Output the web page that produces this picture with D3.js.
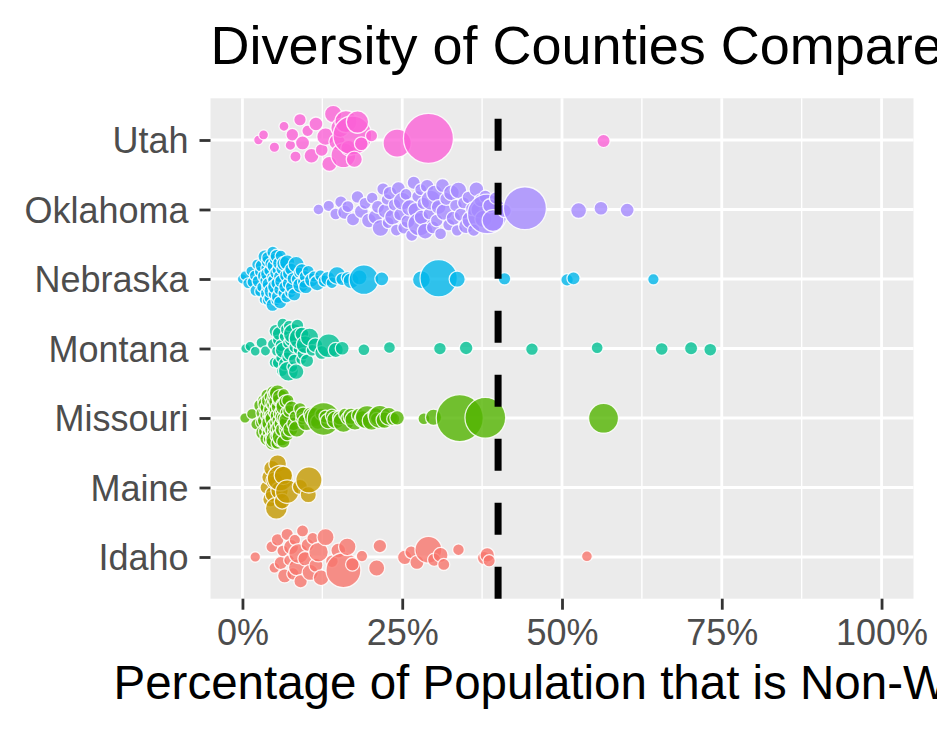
<!DOCTYPE html>
<html>
<head>
<meta charset="utf-8">
<script src="https://cdn.jsdelivr.net/npm/d3@7"></script>
<style>
  html, body { margin: 0; padding: 0; background: #fff; overflow: hidden; }
  svg { display: block; font-family: "Liberation Sans", Arial, sans-serif; }
</style>
</head>
<body>
<svg id="chart" width="937" height="731"></svg>
<script>
// ---- data: [percent non-white, population (thousands)] per county ----
const STATES = ["Idaho", "Maine", "Missouri", "Montana", "Nebraska", "Oklahoma", "Utah"];
const COLORS = ["#F8766D", "#C49A00", "#53B400", "#00C094", "#00B6EB", "#A58AFF", "#FB61D7"];
const Y_ORDER = ["Utah", "Oklahoma", "Nebraska", "Montana", "Missouri", "Maine", "Idaho"];
const X_TICKS = [0, 0.25, 0.5, 0.75, 1];
const X_MINOR = [0.125, 0.375, 0.625, 0.875];
const THRESHOLD = 0.40;
const TITLE = "Diversity of Counties Compared";
const X_TITLE = "Percentage of Population that is Non-White";

const utah = [[2.5,0.9],[3.3,1.5],[5.0,2.6],[6.5,1.6],[7.5,2.7],[7.8,12],[8.3,5],[9.0,11],[9.4,21],[10.2,6.5],[10.8,28],[11.5,20],[12.4,13],[13.0,56],[13.6,30],[14.2,54],[14.8,42],[15.3,72],[15.8,180],[16.2,128],[16.6,35],[17.2,620],[17.5,40],[18.0,130],[18.6,20],[20.2,9.5],[24.2,260],[29.1,1160],[56.5,15]];

const oklahoma = [[11.9,4],[13.5,6],[14.6,8],
 [15.4,10],[16.0,22],[16.5,9],[17.3,15],[18.0,12],[18.6,20],[19.2,9],[19.8,28],
 [20.3,7],[20.8,25],[21.2,14],[21.6,46],[22.0,11],[22.4,30],[22.6,6],[22.8,8],[23.1,19],[23.5,40],[23.8,12],[24.1,9],[24.4,22],[24.7,16],[25.0,60],[25.3,13],[25.6,8],
 [25.9,21],[26.2,45],[26.5,10],[26.8,15],[27.1,33],[27.4,7],[27.7,150],[27.9,9],[28.0,25],[28.3,11],[28.6,38],[28.9,18],[29.2,9],[29.5,90],[29.8,14],[30.1,42],[30.4,12],[30.7,27],[31.0,8],[31.3,20],[31.6,48],
 [31.9,15],[32.3,10],[32.7,37],[33.0,23],[33.4,12],[33.6,7],[33.8,45],[34.2,18],[34.6,9],[35.0,30],[35.4,14],[35.8,70],[36.0,19],[36.2,11],[36.6,26],[37.0,40],
 [37.3,16],[37.7,50],[38.0,13],[38.3,650],[38.7,22],[39.2,120],[39.6,10],
 [41.0,18],[44.2,800],
 [52.6,37],[56.1,20],[60.2,20]];

const nebraska = [[0.0,2],[0.4,1.5],[0.9,4],[1.3,1],[1.6,6],[1.9,3],
 [2.1,8],[2.3,4],[2.5,12],[2.7,3],[2.8,6],[3.0,14],[3.1,5],[3.3,10],[3.4,2],[3.5,18],[3.6,6],[3.7,3],[3.8,12],[3.85,8],[3.9,5],[3.95,22],[4.0,6],[4.0,12],
 [4.1,16],[4.2,5],[4.3,10],[4.4,6],[4.5,24],[4.6,3],[4.7,14],[4.75,8],[4.8,5],[4.9,18],[5.0,12],[5.05,6],[5.1,28],[5.2,8],[5.3,4],[5.35,16],[5.4,10],[5.5,6],[5.6,20],[5.7,12],[5.75,4],[5.8,8],[5.9,14],[6.0,6],
 [6.1,18],[6.2,10],[6.4,4],[6.5,24],[6.6,8],[6.8,12],[6.9,6],[7.0,32],[7.2,10],[7.3,16],[7.5,6],[7.6,12],[7.8,20],[7.9,8],
 [8.1,14],[8.4,40],[8.6,10],[8.9,6],[9.1,36],[9.3,18],[9.6,12],[9.8,8],[9.9,22],
 [10.3,8],[10.8,20],[11.2,5],[11.7,34],[12.2,6],[12.8,10],
 [13.4,25],[14.0,7],[14.8,60],[15.6,12],[16.4,9],
 [17.0,38],[18.3,30],[19.0,300],[21.8,20],
 [28.0,60],[30.7,560],[33.6,40],
 [41.0,11],[50.8,11],[51.8,15],[64.3,6]];

const montana = [[0.5,1],[1.2,2],[2.0,1.5],[3.0,5],[3.6,2],
 [4.8,6],[5.0,3],[5.2,16],[5.4,4],[5.5,2.4],[5.6,8],[5.8,24],[6.0,2],[6.1,12],[6.2,4.4],[6.3,6],[6.4,40],[6.6,4],[6.7,18],[6.9,10],[7.0,3.6],[7.1,2.8],[7.2,90],[7.3,6],[7.5,22],[7.6,14],[7.8,4],[8.0,95],[8.1,7],[8.2,8],[8.4,34],[8.6,12],[8.8,5],[9.0,120],[9.2,4],[9.3,20],[9.5,10],[9.8,60],[10.1,16],[10.5,65],[10.9,8],[11.4,28],
 [12.4,20],[13.5,160],[14.6,30],[15.6,20],[19.0,8],[23.0,8],[30.9,12],[35.0,18],[45.3,12],[55.5,8],[65.6,13],[70.2,15],[73.2,13]];

const missouri = [[0.4,3],[1.5,4],[2.2,6],
 [2.8,16],[3.0,10],[3.1,12],[3.2,24],[3.3,8],[3.4,18],[3.45,6],[3.5,12],[3.6,30],[3.7,6],[3.75,16],[3.8,20],[3.9,14],[3.95,8],[4.0,40],[4.05,10],[4.1,26],[4.15,20],[4.2,16],[4.25,12],[4.3,8],[4.35,50],[4.4,22],[4.45,6],[4.5,12],[4.55,18],[4.6,28],[4.65,16],[4.7,6],[4.75,36],[4.8,14],[4.85,10],[4.9,20],[4.95,24],[5.0,10],[5.05,60],[5.1,24],[5.15,6],[5.2,16],[5.25,8],[5.3,32],[5.35,14],[5.4,18],[5.45,12],[5.5,44],[5.55,8],[5.6,22],[5.65,18],[5.7,14],[5.75,26],[5.8,10],[5.85,12],[5.9,38],[6.0,18],[6.05,8],[6.1,70],[6.2,12],[6.25,22],[6.3,28],[6.4,16],[6.45,6],[6.5,20],[6.6,54],[6.7,10],[6.75,16],[6.8,24],[6.9,14],[7.0,18],[7.1,10],[7.2,80],[7.3,12],[7.5,30],[7.7,20],
 [8.0,18],[8.2,6],[8.5,45],[9.0,12],[9.3,10],[9.5,30],[10.0,55],[10.6,20],[11.0,7],[11.2,80],[11.8,28],[12.3,9],[12.7,400],[13.0,14],[13.4,35],[14.0,15],[14.6,60],[15.2,22],[15.8,105],[16.0,9],[16.4,12],[17.0,40],[17.6,90],[18.2,25],[18.8,50],[19.5,150],[20.2,70],[20.8,30],[21.0,11],[21.5,140],[22.2,45],[22.9,60],[23.6,15],[24.2,25],
 [28.4,8],[29.9,40],[34.0,1000],[38.0,700],[56.5,310]];

const maine = [[3.8,17],[4.2,30],[4.4,35],[4.6,40],[4.8,39],[5.0,50],[5.3,120],[5.5,58],[5.8,55],[5.9,200],[6.2,36],[6.4,67],[7.0,150],[9.0,31],[10.3,40],[10.4,210]];

const idaho = [[2.0,3],[4.6,8],[5.0,4],[5.5,12],[6.0,16],[6.3,7],[6.6,22],[7.0,10],[7.3,4],[7.6,30],[7.9,11],[8.2,6],[8.5,45],[8.8,90],[9.1,17],[9.4,9],[9.8,25],[10.2,14],[10.6,40],[11.0,8],[11.5,20],[11.9,85],[12.3,35],[13.0,50],[14.0,12],[15.0,28],[15.8,470],[16.4,55],[17.2,18],[18.7,6],[21.0,40],[21.5,18],[25.4,25],[26.4,12],[27.3,22],[29.1,230],[30.0,16],[31.0,28],[31.5,9],[33.8,7],[37.8,16],[38.3,25],[38.6,10],[53.9,4]];

const COUNTIES = { Idaho: idaho, Maine: maine, Missouri: missouri, Montana: montana, Nebraska: nebraska, Oklahoma: oklahoma, Utah: utah };

// ---- layout ----
const svg = d3.select("#chart");
const panel = { left: 210.5, right: 913.5, top: 98.3, bottom: 598.7 };

const x = d3.scaleLinear().domain([-0.05, 1.05]).range([panel.left, panel.right]);
const y = d3.scalePoint().domain(Y_ORDER).range([panel.top, panel.bottom]).padding(0.6);
const color = d3.scaleOrdinal().domain(STATES).range(COLORS);
const size = d3.scaleSqrt().domain([0, 1160]).range([0, 20.8]);
const radius = p => 4.2 + size(p);

// panel background
svg.append("rect")
  .attr("x", panel.left).attr("y", panel.top)
  .attr("width", panel.right - panel.left).attr("height", panel.bottom - panel.top)
  .attr("fill", "#EBEBEB");

// grid
svg.append("g").selectAll("line").data(X_MINOR).join("line")
  .attr("x1", d => x(d)).attr("x2", d => x(d))
  .attr("y1", panel.top).attr("y2", panel.bottom)
  .attr("stroke", "#fff").attr("stroke-width", 1.4);
svg.append("g").selectAll("line").data(X_TICKS).join("line")
  .attr("x1", d => x(d)).attr("x2", d => x(d))
  .attr("y1", panel.top).attr("y2", panel.bottom)
  .attr("stroke", "#fff").attr("stroke-width", 2.8);
svg.append("g").selectAll("line").data(Y_ORDER).join("line")
  .attr("x1", panel.left).attr("x2", panel.right)
  .attr("y1", d => y(d)).attr("y2", d => y(d))
  .attr("stroke", "#fff").attr("stroke-width", 2.8);

// quasirandom offsets (van der Corput sequence scaled by a kernel density), as in ggbeeswarm
function vanDerCorput(n) {
  let q = 0, denom = 1;
  while (n > 0) { denom *= 2; q += (n % 2) / denom; n = Math.floor(n / 2); }
  return q;
}
function quasirandom(values, maxWidth) {
  const n = values.length;
  const sd = d3.deviation(values) || 1;
  const sorted = values.slice().sort((a, b) => a - b);
  const iqr = d3.quantileSorted(sorted, 0.75) - d3.quantileSorted(sorted, 0.25);
  let lo = Math.min(sd, iqr / 1.34);
  if (!(lo > 0)) lo = sd;
  const bw = 0.9 * lo * Math.pow(n, -0.2);
  const dens = v => d3.sum(values, u => Math.exp(-0.5 * ((v - u) / bw) ** 2));
  const grid = d3.range(512).map(i => sorted[0] - 3 * bw + i * (sorted[n - 1] - sorted[0] + 6 * bw) / 511);
  const maxD = d3.max(grid, dens);
  const order = d3.range(n).sort((a, b) => values[a] - values[b] || a - b);
  const rank = new Array(n);
  order.forEach((idx, r) => rank[idx] = r + 1);
  return values.map((v, i) => (vanDerCorput(rank[i]) - 0.5) * 2 * maxWidth * dens(v) / maxD);
}

const WIDTH_PX = 0.4 * y.step();
const pointsLayer = svg.append("g");
STATES.forEach(state => {
  const vals = COUNTIES[state].map(d => d[0]);
  const offs = quasirandom(vals, WIDTH_PX);
  const items = COUNTIES[state].map(([pct, pop], i) => ({ px: x(pct / 100), pop, off: offs[i] }));
  pointsLayer.append("g").selectAll("circle").data(items).join("circle")
    .attr("cx", d => d.px)
    .attr("cy", d => y(state) + d.off)
    .attr("r", d => radius(d.pop))
    .attr("fill", color(state))
    .attr("fill-opacity", 0.8)
    .attr("stroke", "#fff")
    .attr("stroke-opacity", 0.85)
    .attr("stroke-width", 1.3);
});

// threshold line
svg.append("line")
  .attr("x1", x(THRESHOLD)).attr("x2", x(THRESHOLD))
  .attr("y1", panel.bottom).attr("y2", panel.top)
  .attr("stroke", "#000").attr("stroke-width", 7)
  .attr("stroke-dasharray", "32,32");

// axes
const xAxis = svg.append("g").attr("transform", `translate(0,${panel.bottom})`)
  .call(d3.axisBottom(x).tickValues(X_TICKS).tickFormat(d3.format(".0%")).tickSize(11).tickPadding(10).tickSizeOuter(0));
const yAxis = svg.append("g").attr("transform", `translate(${panel.left},0)`)
  .call(d3.axisLeft(y).tickSize(11).tickPadding(11).tickSizeOuter(0));
[xAxis, yAxis].forEach(g => {
  g.select(".domain").remove();
  g.selectAll(".tick line").attr("stroke", "#333").attr("stroke-width", 2.8);
  g.selectAll(".tick text").attr("fill", "#4D4D4D").attr("font-size", 36)
    .attr("font-family", "'Liberation Sans', Arial, sans-serif");
});
yAxis.selectAll(".tick text").attr("dy", "0.36em");

// titles
svg.append("text").attr("x", panel.left).attr("y", 63.5)
  .attr("font-size", 54).attr("fill", "#000").text(TITLE);
svg.append("text").attr("x", 113.5).attr("y", 699)
  .attr("font-size", 47.5).attr("fill", "#000").text(X_TITLE);
</script>
</body>
</html>
